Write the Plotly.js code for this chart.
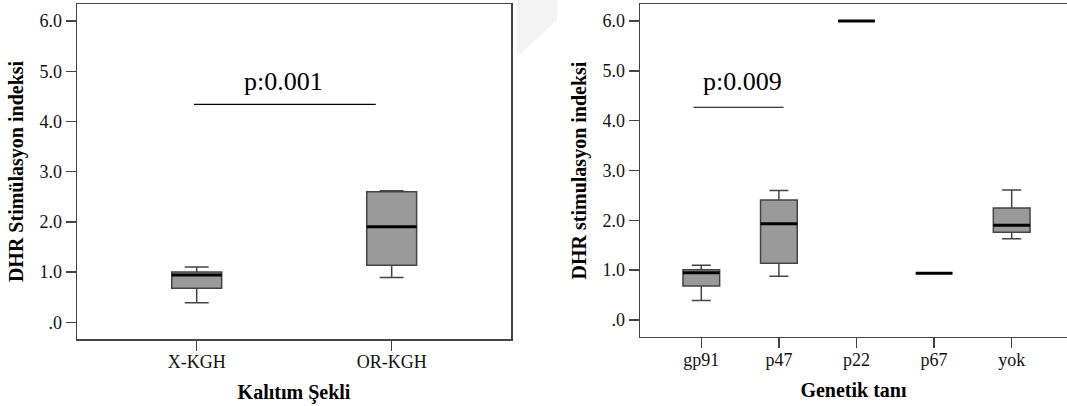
<!DOCTYPE html>
<html>
<head>
<meta charset="utf-8">
<script src="https://cdn.plot.ly/plotly-3.0.1.min.js"></script>
<style>html,body{margin:0;padding:0;background:#fff;}#chart{width:1067px;height:406px;}</style>
</head>
<body>
<div id="chart"></div>
<script>
// ---- Data ----
const leftCategories = ["X-KGH", "OR-KGH"];
const leftQ1 = [0.68, 1.135];
const leftMedian = [0.94, 1.905];
const leftQ3 = [1.0, 2.60];
const leftLower = [0.39, 0.89];
const leftUpper = [1.10, 2.62];

const rightCategories = ["gp91", "p47", "p22", "p67", "yok"];
const rightQ1 = [0.683, 1.14, 6.0, 0.94, 1.76];
const rightMedian = [0.95, 1.93, 6.0, 0.94, 1.90];
const rightQ3 = [1.01, 2.41, 6.0, 0.94, 2.25];
const rightLower = [0.39, 0.88, 6.0, 0.94, 1.63];
const rightUpper = [1.10, 2.60, 6.0, 0.94, 2.61];

const yTickVals = [0, 1, 2, 3, 4, 5, 6];
const yTickText = [".0", "1.0", "2.0", "3.0", "4.0", "5.0", "6.0"];

// ---- Styles ----
const SERIF = "Liberation Serif";
const AX = "#444";
const leftBoxW = 0.256, rightBoxW = 0.473;

function idx(arr) { return arr.map((_, i) => i); }
function medianLines(medians, w) {
  const xs = [], ys = [];
  medians.forEach((m, i) => { xs.push(i - w / 2, i + w / 2, null); ys.push(m, m, null); });
  return { x: xs, y: ys };
}

const boxStyle = {
  type: "box", fillcolor: "#9a9a9a",
  line: { color: AX, width: 1.5 }, boxpoints: false,
  showlegend: false, hoverinfo: "skip"
};

const leftBox = Object.assign({}, boxStyle, {
  x: idx(leftCategories), q1: leftQ1, median: leftMedian, q3: leftQ3,
  lowerfence: leftLower, upperfence: leftUpper,
  width: leftBoxW, whiskerwidth: 0.48, xaxis: "x", yaxis: "y"
});
const rightBox = Object.assign({}, boxStyle, {
  x: idx(rightCategories), q1: rightQ1, median: rightMedian, q3: rightQ3,
  lowerfence: rightLower, upperfence: rightUpper,
  width: rightBoxW, whiskerwidth: 0.52, xaxis: "x2", yaxis: "y2"
});
const lm = medianLines(leftMedian, leftBoxW);
const rm = medianLines(rightMedian, rightBoxW);
const leftMed = { type: "scatter", mode: "lines", x: lm.x, y: lm.y, line: { color: "#000", width: 3 },
  showlegend: false, hoverinfo: "skip", xaxis: "x", yaxis: "y" };
const rightMed = { type: "scatter", mode: "lines", x: rm.x, y: rm.y, line: { color: "#000", width: 3 },
  showlegend: false, hoverinfo: "skip", xaxis: "x2", yaxis: "y2" };

const axisCommon = {
  showline: true, linecolor: AX, linewidth: 1.5, ticks: "outside", ticklen: 10,
  tickcolor: AX, tickwidth: 1.5, showgrid: false, zeroline: false, fixedrange: true
};
const tickFontX = { family: SERIF, size: 18, color: "#111" };
const tickFontY = { family: SERIF, size: 18, color: "#111" };
const titleFont = { family: SERIF, size: 20, color: "#000" };

const layout = {
  width: 1067, height: 406,
  margin: { l: 0, r: 0, t: 0, b: 0 },
  paper_bgcolor: "#fff", plot_bgcolor: "#fff",
  font: { family: SERIF, color: "#111" },
  xaxis: Object.assign({}, axisCommon, {
    domain: [77 / 1067, 511 / 1067], range: [-0.614, 1.612], mirror: true,
    tickvals: idx(leftCategories), ticktext: leftCategories, tickfont: tickFontX,
    ticklabelstandoff: -4,
    title: { text: "<b>Kalıtım Şekli</b>", font: titleFont, standoff: 14 },
    anchor: "y"
  }),
  yaxis: Object.assign({}, axisCommon, {
    domain: [1 - 339 / 406, 1 - 4 / 406], range: [-0.333, 6.34], mirror: true,
    tickvals: yTickVals, ticktext: yTickText, tickfont: tickFontY,
    title: { text: "<b>DHR Stimülasyon indeksi</b>", font: titleFont, standoff: 10 },
    anchor: "x"
  }),
  xaxis2: Object.assign({}, axisCommon, {
    domain: [640 / 1067, 1], range: [-0.79, 4.713], mirror: true,
    tickvals: idx(rightCategories), ticktext: rightCategories, tickfont: tickFontX,
    ticklabelstandoff: -4,
    title: { text: "<b>Genetik tanı</b>", font: titleFont, standoff: 14 },
    anchor: "y2"
  }),
  yaxis2: Object.assign({}, axisCommon, {
    domain: [1 - 336.7 / 406, 1 - 4.3 / 406], range: [-0.335, 6.336], mirror: false,
    tickvals: yTickVals, ticktext: yTickText, tickfont: tickFontY,
    title: { text: "<b>DHR stimulasyon indeksi</b>", font: titleFont, standoff: 10 },
    anchor: "x2"
  }),
  shapes: [
    { type: "line", xref: "x", yref: "y", x0: -0.014, x1: 0.918, y0: 4.34, y1: 4.34, line: { color: "#000", width: 1.2 } },
    { type: "line", xref: "x2", yref: "y2", x0: -0.10, x1: 1.06, y0: 4.27, y1: 4.27, line: { color: "#000", width: 1.2 } },
    { type: "path", xref: "paper", yref: "paper", layer: "below",
      path: "M " + (517/1067) + "," + 1 + " L " + (557/1067) + "," + 1 + " L " + (557/1067) + "," + (1-20/406) +
            " L " + (517/1067) + "," + (1-57/406) + " Z",
      fillcolor: "#f3f3f3", line: { width: 0 } }
  ],
  annotations: [
    { xref: "x", yref: "y", x: 0.443, y: 4.79, text: "p:0.001", showarrow: false,
      font: { family: SERIF, size: 26, color: "#000" } },
    { xref: "x2", yref: "y2", x: 0.534, y: 4.78, text: "p:0.009", showarrow: false,
      font: { family: SERIF, size: 26, color: "#000" } }
  ]
};

Plotly.newPlot("chart", [leftBox, rightBox, leftMed, rightMed], layout, { staticPlot: true, displayModeBar: false });
</script>
</body>
</html>
